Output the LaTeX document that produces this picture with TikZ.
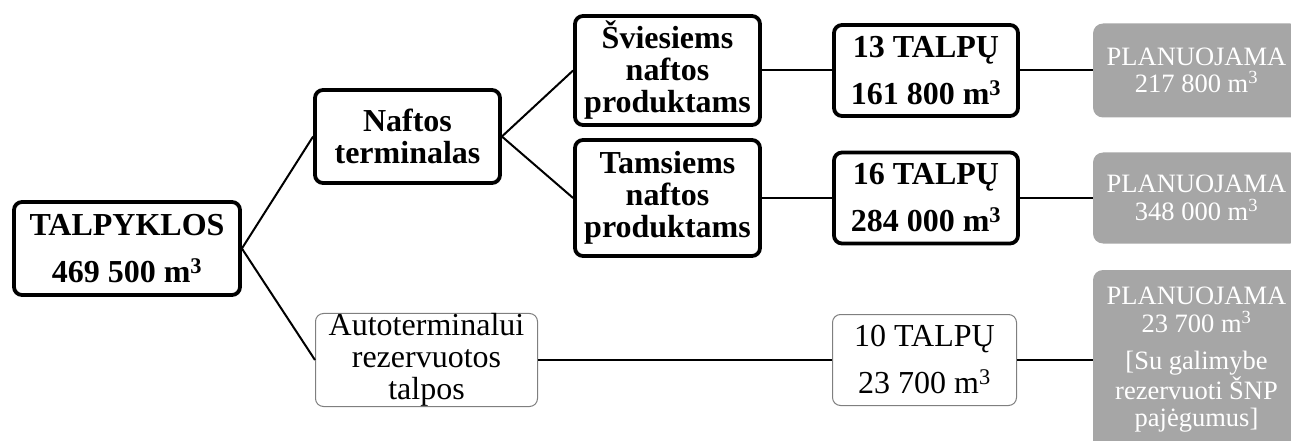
\documentclass[tikz,border=0pt]{standalone}
\usepackage{fontspec}
\setmainfont{Liberation Serif}
\definecolor{plangray}{HTML}{A6A6A6}
\definecolor{thingray}{HTML}{7F7F7F}
\tikzset{
  boldbox/.style={draw=black, line width=3.8pt, rounded corners=8pt, align=center,
    inner sep=0pt, font=\bfseries\fontsize{32}{32}\selectfont},
  thinbox/.style={draw=thingray, line width=1pt, rounded corners=8pt, align=center,
    inner sep=0pt, font=\fontsize{32}{32}\selectfont},
  planbox/.style={fill=plangray, draw=none, rounded corners=10pt, align=center,
    inner sep=0pt, text=white, font=\fontsize{26.5}{27.5}\selectfont},
  link/.style={draw=black, line width=2pt}
}
\begin{document}
\begin{tikzpicture}[x=1pt, y=-1pt]
\useasboundingbox (0,0) rectangle (1291,441);
\node[boldbox, minimum width=226pt, minimum height=93pt] (root) at (127,248.5) {TALPYKLOS\\[15pt]469 500 m\textsuperscript{3}};
\node[boldbox, minimum width=185pt, minimum height=93pt] (naft) at (407.5,136.5) {Naftos\\terminalas};
\node[boldbox, minimum width=185pt, minimum height=109pt] (svies) at (667.5,70.5) {Šviesiems\\naftos\\produktams};
\node[boldbox, minimum width=185pt, minimum height=116pt] (tams) at (667.5,198) {Tamsiems\\naftos\\produktams};
\node[boldbox, minimum width=184pt, minimum height=91pt] (t13) at (926,70.5) {13 TALPŲ\\[15pt]161 800 m\textsuperscript{3}};
\node[boldbox, minimum width=184pt, minimum height=91pt] (t16) at (926,198) {16 TALPŲ\\[15pt]284 000 m\textsuperscript{3}};
\node[thinbox, minimum width=222pt, minimum height=92pt] (auto) at (426.5,360) {Autoterminalui\\rezervuotos\\talpos};
\node[thinbox, minimum width=184pt, minimum height=91pt] (t10) at (924.5,360) {10 TALPŲ\\[15pt]23 700 m\textsuperscript{3}};
\node[planbox, minimum width=207pt, minimum height=94pt] (p1) at (1196.5,70.5) {PLANUOJAMA\\217 800 m\textsuperscript{3}};
\node[planbox, minimum width=207pt, minimum height=91pt] (p2) at (1196.5,198) {PLANUOJAMA\\348 000 m\textsuperscript{3}};
\node[planbox, minimum width=207pt, minimum height=180pt] (p3) at (1196.5,360) {PLANUOJAMA\\23 700 m\textsuperscript{3}\\[10pt][Su galimybe\\rezervuoti ŠNP\\pajėgumus]};
\draw[link] (root.east) -- (naft.west);
\draw[link] (root.east) -- (auto.west);
\draw[link] (naft.east) -- (svies.west);
\draw[link] (naft.east) -- (tams.west);
\draw[link] (svies.east) -- (t13.west);
\draw[link] (tams.east) -- (t16.west);
\draw[link] (t13.east) -- (p1.west);
\draw[link] (t16.east) -- (p2.west);
\draw[link] (auto.east) -- (t10.west);
\draw[link] (t10.east) -- (p3.west);
\end{tikzpicture}
\end{document}
